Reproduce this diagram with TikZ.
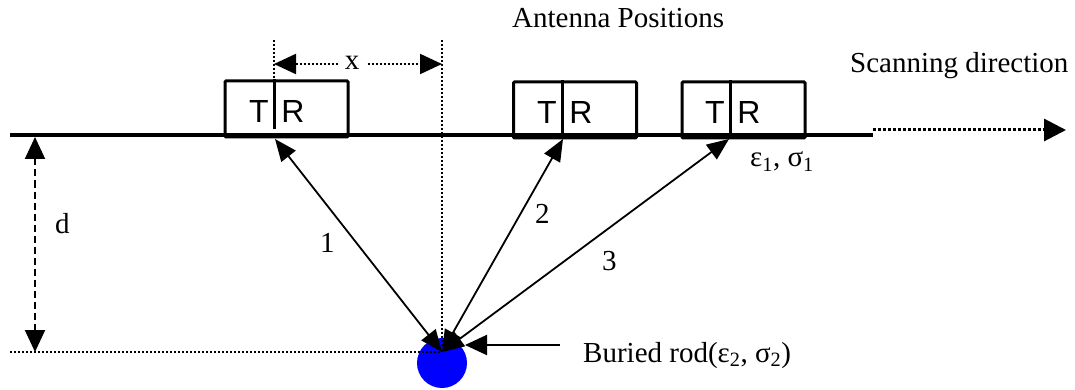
\documentclass[tikz,border=0pt]{standalone}
\usepackage{fontspec}
\setmainfont{Liberation Serif}
\newfontfamily\arialf{Liberation Sans}
\usetikzlibrary{arrows.meta}
\begin{document}
\begin{tikzpicture}[x=1pt,y=-1pt,
  lbl/.style={anchor=base west, inner sep=0pt, font=\fontsize{29}{34}\selectfont},
  trtext/.style={inner sep=0pt, anchor=base, font=\arialf\fontsize{32}{36}\selectfont},
  antbox/.style={draw, line width=3pt, rounded corners=1pt, minimum width=123pt, minimum height=56pt, inner sep=0pt},
  bigtip/.style={Triangle[length=22pt,width=19pt]},
  ray/.style={line width=1.8pt, {Triangle[length=22pt,width=18pt]}-{Triangle[length=22pt,width=18pt]}},
  dotline/.style={line width=2pt, dash pattern=on 2pt off 2pt},
  divider/.style={line width=3pt}
]
\useasboundingbox (0,0) rectangle (1075,390);

% ground surface
\coordinate (g0) at (10,135);
\coordinate (g1) at (873,135);
\draw[line width=3.5pt] (g0) -- (g1);
\coordinate (s0) at (873,130);
\coordinate (s1) at (1066,130);
\draw[line width=3pt, dash pattern=on 3pt off 2pt, -{Triangle[length=22pt,width=22pt]}] (s0) -- (s1);

% antenna boxes
\node[antbox] (b1) at (286.5,109) {};
\node[antbox] (b2) at (575,110) {};
\node[antbox] (b3) at (743.5,110) {};
\coordinate (d1) at (274,129);
\coordinate (d2) at (562,138);
\coordinate (d3) at (730,138);
\draw[divider] (b1.north -| d1) -- (d1);
\draw[divider] (b2.north -| d2) -- (d2);
\draw[divider] (b3.north -| d3) -- (d3);
\node[trtext] (t1) at (259,123) {T};
\node[trtext] (r1) at (293,123) {R};
\node[trtext] (t2) at (547,124) {T};
\node[trtext] (r2) at (581,124) {R};
\node[trtext] (t3) at (715,124) {T};
\node[trtext] (r3) at (749,124) {R};

% rod
\node[circle, fill=blue, minimum size=50pt, inner sep=0pt] (rod) at (442,363) {};
\coordinate (p) at (442,352);

% dotted reference lines
\coordinate (v0) at (442,40);
\coordinate (v1) at (442,348);
\draw[dotline] (v0) -- (v1);
\coordinate (u0) at (274,40);
\draw[dotline] (u0) -- (b1.north -| u0);
\coordinate (h0) at (10,352);
\draw[dotline] (h0) -- (p);

% x dimension
\coordinate (x0) at (274,64);
\coordinate (x1) at (442,64);
\draw[dotline, {Triangle[length=22pt,width=20pt]}-{Triangle[length=22pt,width=20pt]}] (x0) -- (x1);
\node[anchor=base, fill=white, inner xsep=7pt, inner ysep=1pt, font=\fontsize{29}{34}\selectfont] (xl) at (352,70) {x};

% d dimension
\coordinate (dd0) at (35,137);
\coordinate (dd1) at (35,352);
\draw[line width=2pt, dash pattern=on 7pt off 4pt, {Triangle[length=22pt,width=20pt]}-{Triangle[length=22pt,width=20pt]}] (dd0) -- (dd1);
\node[lbl] (dl) at (55,233) {d};

% rays
\coordinate (e1) at (275,139);
\coordinate (e2) at (563,139);
\coordinate (e3) at (729,139);
\draw[ray] (p) -- (e1);
\draw[ray] (p) -- (e2);
\draw[ray] (p) -- (e3);
\node[lbl] (n1) at (320,252) {1};
\node[lbl] (n2) at (535,223) {2};
\node[lbl] (n3) at (602,270) {3};

% rod pointer
\coordinate (ra) at (560,345);
\coordinate (rt) at (465,345);
\draw[line width=2pt, -{Triangle[length=22pt,width=20pt]}] (ra) -- (rt);

% labels
\node[lbl] (ant) at (512,28) {Antenna Positions};
\node[lbl] (scan) at (850,73) {Scanning direction};
\node[lbl] (med1) at (750,167) {ε\textsubscript{1}, σ\textsubscript{1}};
\node[lbl] (med2) at (583,362) {Buried rod(ε\textsubscript{2}, σ\textsubscript{2})};
\end{tikzpicture}
\end{document}
